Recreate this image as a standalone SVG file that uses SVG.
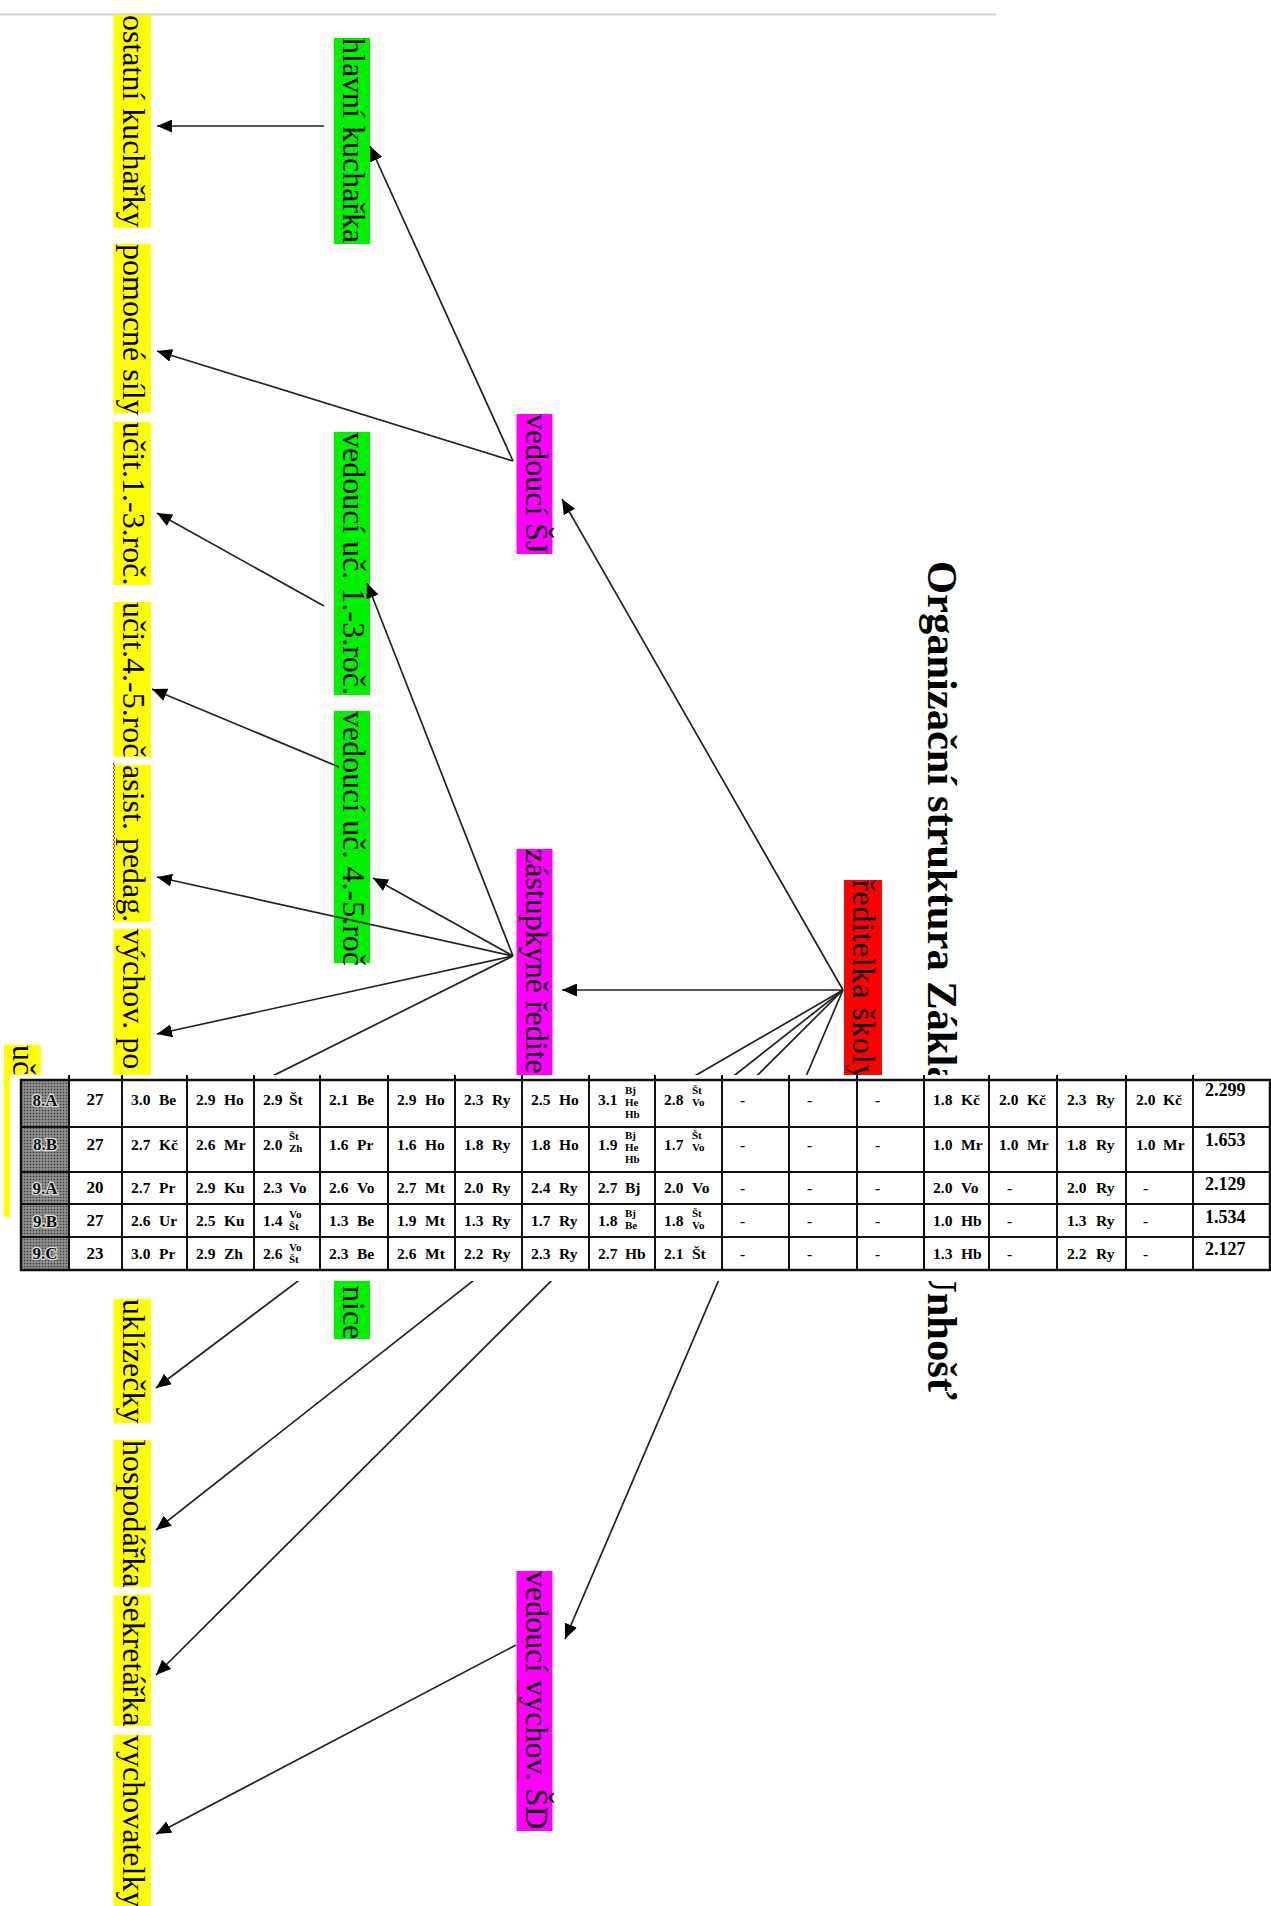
<svg xmlns="http://www.w3.org/2000/svg" width="1271" height="1906" viewBox="0 0 1271 1906">
<style>
.lbl{font-family:"Liberation Serif","Times New Roman",serif;font-size:32px;fill:#000}
.ttl{font-family:"Liberation Serif","Times New Roman",serif;font-size:42.5px;font-weight:bold;fill:#000}
.y{fill:#ffff00}.g{fill:#00f000}.m{fill:#ff00ff}.r{fill:#ff0000}
.cn{stroke:#222;stroke-width:1.7;fill:none}
.tl{stroke:#111;stroke-width:2;fill:none}
.t{font-family:"Liberation Serif","Times New Roman",serif;font-weight:bold;font-size:15.5px;fill:#000}
.s{font-size:11px}
.c{font-size:17px;text-anchor:middle}
.big{font-size:18px}
.hl{font-family:"Liberation Serif","Times New Roman",serif;font-weight:bold;font-size:17px;text-anchor:middle;fill:#111;stroke:#ddd;stroke-width:2.5;paint-order:stroke}
</style>
<defs>
<marker id="ah" viewBox="0 0 15 13" refX="15" refY="6.5" markerWidth="15" markerHeight="13" markerUnits="userSpaceOnUse" orient="auto"><path d="M0,0 L15,6.5 L0,13 z" fill="#000"/></marker>
<pattern id="sq" width="4" height="4" patternUnits="userSpaceOnUse"><path d="M1,0 L3,2 L1,4" fill="none" stroke="#e00000" stroke-width="0.9"/></pattern>
<pattern id="ht" width="3" height="3" patternUnits="userSpaceOnUse"><rect width="3" height="3" fill="#7c7c7c"/><rect x="0" y="0" width="1" height="1" fill="#3a3a3a"/><rect x="1.5" y="1.5" width="1" height="1" fill="#c8c8c8"/></pattern>
</defs>
<rect width="1271" height="1906" fill="#fff"/>
<line x1="0" y1="14.6" x2="996" y2="14.6" stroke="#cfcfcf" stroke-width="2"/>

<g id="nodes">
<g id="n-ostatni"><rect class="y" x="113.5" y="15" width="37.5" height="213"/><text class="lbl" transform="translate(122.5,15) rotate(90)">ostatní kuchařky</text></g>
<g id="n-pomocne"><rect class="y" x="113.5" y="244" width="37.5" height="169"/><text class="lbl" transform="translate(122.5,244) rotate(90)">pomocné síly</text></g>
<g id="n-ucit13"><rect class="y" x="113.5" y="422" width="37.5" height="163"/><text class="lbl" transform="translate(122.5,422) rotate(90)">učit.1.-3.roč.</text></g>
<g id="n-ucit45"><rect class="y" x="113.5" y="602" width="37.5" height="155"/><text class="lbl" transform="translate(122.5,602) rotate(90)">učit.4.-5.roč</text></g>
<g id="n-asist"><rect class="y" x="113.5" y="765" width="37.5" height="157"/><text class="lbl" transform="translate(122.5,765) rotate(90)">asist. pedag.</text><rect x="113" y="763" width="4" height="157" fill="url(#sq)"/></g>
<g id="n-vychpor"><rect class="y" x="113.5" y="929" width="37.5" height="171"/><text class="lbl" transform="translate(122.5,929) rotate(90)">výchov. po</text></g>
<g id="n-uc"><rect class="y" x="4" y="1045" width="37" height="172"/><text class="lbl" transform="translate(13,1045) rotate(90)">uč</text></g>
<g id="n-uklizecky"><rect class="y" x="113.5" y="1299" width="37.5" height="124"/><text class="lbl" transform="translate(122.5,1299) rotate(90)">uklízečky</text></g>
<g id="n-hospodarka"><rect class="y" x="113.5" y="1440" width="37.5" height="147"/><text class="lbl" transform="translate(122.5,1440) rotate(90)">hospodářka</text></g>
<g id="n-sekretarka"><rect class="y" x="113.5" y="1595" width="37.5" height="131"/><text class="lbl" transform="translate(122.5,1595) rotate(90)">sekretářka</text></g>
<g id="n-vychovatelky"><rect class="y" x="113.5" y="1735" width="37.5" height="171"/><text class="lbl" transform="translate(122.5,1735) rotate(90)">vychovatelky</text></g>

<g id="n-hlavni"><rect class="g" x="334" y="38" width="36" height="206"/><text class="lbl" transform="translate(343,38) rotate(90)">hlavní kuchařka</text></g>
<g id="n-ved13"><rect class="g" x="334" y="432" width="36" height="263"/><text class="lbl" transform="translate(343,432) rotate(90)">vedoucí uč. 1.-3.roč.</text></g>
<g id="n-ved45"><rect class="g" x="334" y="711" width="36" height="252"/><text class="lbl" transform="translate(343,711) rotate(90)">vedoucí uč. 4.-5.roč</text></g>
<g id="n-nice"><rect class="g" x="334" y="1100" width="36" height="239"/><text class="lbl" transform="translate(343,1286) rotate(90)">nice</text></g>

<g id="n-vedSJ"><rect class="m" x="516.5" y="414" width="36" height="140"/><text class="lbl" transform="translate(525.5,414) rotate(90)">vedoucí ŠJ</text></g>
<g id="n-zast"><rect class="m" x="516.5" y="849" width="36" height="250"/><text class="lbl" transform="translate(525.5,849) rotate(90)">zástupkyně ředite</text></g>
<g id="n-vedSD"><rect class="m" x="516.5" y="1571" width="36" height="260"/><text class="lbl" transform="translate(525.5,1571) rotate(90)">vedoucí vychov. ŠD</text><rect x="516" y="1680" width="4" height="100" fill="url(#sq)"/></g>

<g id="n-reditelka"><rect class="r" x="844" y="880" width="38" height="200"/><text class="lbl" letter-spacing="0.8" transform="translate(853,880) rotate(90)">ředitelka školy</text></g>
</g>

<g id="connectors">
<path class="cn" d="M324,126 L157,126" marker-end="url(#ah)"/>
<path class="cn" d="M513,461 L370,146" marker-end="url(#ah)"/>
<path class="cn" d="M513,461 L157,351" marker-end="url(#ah)"/>
<path class="cn" d="M324,606 L157,513" marker-end="url(#ah)"/>
<path class="cn" d="M339,767 L152,689" marker-end="url(#ah)"/>
<path class="cn" d="M513,956 L367,583" marker-end="url(#ah)"/>
<path class="cn" d="M513,956 L373,878" marker-end="url(#ah)"/>
<path class="cn" d="M513,956 L157,877" marker-end="url(#ah)"/>
<path class="cn" d="M513,956 L157,1034" marker-end="url(#ah)"/>
<path class="cn" d="M513,956 L48,1188"/>
<path class="cn" d="M843,990 L562,499" marker-end="url(#ah)"/>
<path class="cn" d="M843,990 L562,990" marker-end="url(#ah)"/>
<path class="cn" d="M843,990 L562,1153"/>
<path class="cn" d="M513,1119 L156,1388" marker-end="url(#ah)"/>
<path class="cn" d="M843,990 L156,1530" marker-end="url(#ah)"/>
<path class="cn" d="M843,990 L156,1675" marker-end="url(#ah)"/>
<path class="cn" d="M843,990 L565,1639" marker-end="url(#ah)"/>
<path class="cn" d="M516,1645 L156,1834" marker-end="url(#ah)"/>
</g>

<g id="title">
<text class="ttl" transform="translate(928,561) rotate(90)">Organizační struktura Zákla</text>
<text class="ttl" transform="translate(928,1262) rotate(90)">Unhošť</text>
</g>

<g id="table">
<rect x="10" y="1075" width="1261" height="206" fill="#fff"/>
<rect x="22" y="1081" width="47" height="189" fill="url(#ht)"/>
<g class="tl">
<rect x="21" y="1080" width="1249" height="190" stroke-width="2.5"/>
<path d="M21,1127H1270M21,1172H1270M21,1204H1270M21,1237H1270"/>
<path d="M69,1075V1270M122,1075V1270M187,1075V1270M254,1075V1270M320,1075V1270M388,1075V1270M455,1075V1270M522,1075V1270M589,1075V1270M655,1075V1270M722,1075V1270M789,1075V1270M857,1075V1270M924,1075V1270M989,1075V1270M1057,1075V1270M1126,1075V1270M1193,1075V1270"/>
</g>
<g>
<text class="hl" x="45" y="1106">8.A</text>
<text class="hl" x="45" y="1150">8.B</text>
<text class="hl" x="45" y="1194">9.A</text>
<text class="hl" x="45" y="1227">9.B</text>
<text class="hl" x="45" y="1259">9.C</text>
</g>
<g class="t">
<text class="c" x="95" y="1105">27</text>
<text class="c" x="95" y="1150">27</text>
<text class="c" x="95" y="1193">20</text>
<text class="c" x="95" y="1226">27</text>
<text class="c" x="95" y="1259">23</text>

<text x="131" y="1105">3.0</text><text x="159" y="1105">Be</text>
<text x="196" y="1105">2.9</text><text x="224" y="1105">Ho</text>
<text x="263" y="1105">2.9</text><text x="289" y="1105">Št</text>
<text x="329" y="1105">2.1</text><text x="357" y="1105">Be</text>
<text x="397" y="1105">2.9</text><text x="425" y="1105">Ho</text>
<text x="464" y="1105">2.3</text><text x="492" y="1105">Ry</text>
<text x="531" y="1105">2.5</text><text x="559" y="1105">Ho</text>
<text x="598" y="1105">3.1</text><text class="s" x="625" y="1094">Bj</text><text class="s" x="625" y="1106">He</text><text class="s" x="625" y="1118">Hb</text>
<text x="664" y="1105">2.8</text><text class="s" x="692" y="1094">Št</text><text class="s" x="692" y="1106">Vo</text>
<text x="740" y="1105">-</text><text x="807" y="1105">-</text><text x="875" y="1105">-</text>
<text x="933" y="1105">1.8</text><text x="961" y="1105">Kč</text>
<text x="999" y="1105">2.0</text><text x="1027" y="1105">Kč</text>
<text x="1067" y="1105">2.3</text><text x="1096" y="1105">Ry</text>
<text x="1136" y="1105">2.0</text><text x="1163" y="1105">Kč</text>
<text class="big" x="1205" y="1096">2.299</text>

<text x="131" y="1150">2.7</text><text x="159" y="1150">Kč</text>
<text x="196" y="1150">2.6</text><text x="224" y="1150">Mr</text>
<text x="263" y="1150">2.0</text><text class="s" x="289" y="1140">Št</text><text class="s" x="289" y="1152">Zh</text>
<text x="329" y="1150">1.6</text><text x="357" y="1150">Pr</text>
<text x="397" y="1150">1.6</text><text x="425" y="1150">Ho</text>
<text x="464" y="1150">1.8</text><text x="492" y="1150">Ry</text>
<text x="531" y="1150">1.8</text><text x="559" y="1150">Ho</text>
<text x="598" y="1150">1.9</text><text class="s" x="625" y="1139">Bj</text><text class="s" x="625" y="1151">He</text><text class="s" x="625" y="1163">Hb</text>
<text x="664" y="1150">1.7</text><text class="s" x="692" y="1139">Št</text><text class="s" x="692" y="1151">Vo</text>
<text x="740" y="1150">-</text><text x="807" y="1150">-</text><text x="875" y="1150">-</text>
<text x="933" y="1150">1.0</text><text x="961" y="1150">Mr</text>
<text x="999" y="1150">1.0</text><text x="1027" y="1150">Mr</text>
<text x="1067" y="1150">1.8</text><text x="1096" y="1150">Ry</text>
<text x="1136" y="1150">1.0</text><text x="1163" y="1150">Mr</text>
<text class="big" x="1205" y="1146">1.653</text>

<text x="131" y="1193">2.7</text><text x="159" y="1193">Pr</text>
<text x="196" y="1193">2.9</text><text x="224" y="1193">Ku</text>
<text x="263" y="1193">2.3</text><text x="289" y="1193">Vo</text>
<text x="329" y="1193">2.6</text><text x="357" y="1193">Vo</text>
<text x="397" y="1193">2.7</text><text x="425" y="1193">Mt</text>
<text x="464" y="1193">2.0</text><text x="492" y="1193">Ry</text>
<text x="531" y="1193">2.4</text><text x="559" y="1193">Ry</text>
<text x="598" y="1193">2.7</text><text x="625" y="1193">Bj</text>
<text x="664" y="1193">2.0</text><text x="692" y="1193">Vo</text>
<text x="740" y="1193">-</text><text x="807" y="1193">-</text><text x="875" y="1193">-</text>
<text x="933" y="1193">2.0</text><text x="961" y="1193">Vo</text>
<text x="1007" y="1193">-</text>
<text x="1067" y="1193">2.0</text><text x="1096" y="1193">Ry</text>
<text x="1143" y="1193">-</text>
<text class="big" x="1205" y="1190">2.129</text>

<text x="131" y="1226">2.6</text><text x="159" y="1226">Ur</text>
<text x="196" y="1226">2.5</text><text x="224" y="1226">Ku</text>
<text x="263" y="1226">1.4</text><text class="s" x="289" y="1218">Vo</text><text class="s" x="289" y="1230">Št</text>
<text x="329" y="1226">1.3</text><text x="357" y="1226">Be</text>
<text x="397" y="1226">1.9</text><text x="425" y="1226">Mt</text>
<text x="464" y="1226">1.3</text><text x="492" y="1226">Ry</text>
<text x="531" y="1226">1.7</text><text x="559" y="1226">Ry</text>
<text x="598" y="1226">1.8</text><text class="s" x="625" y="1217">Bj</text><text class="s" x="625" y="1229">Be</text>
<text x="664" y="1226">1.8</text><text class="s" x="692" y="1217">Št</text><text class="s" x="692" y="1229">Vo</text>
<text x="740" y="1226">-</text><text x="807" y="1226">-</text><text x="875" y="1226">-</text>
<text x="933" y="1226">1.0</text><text x="961" y="1226">Hb</text>
<text x="1007" y="1226">-</text>
<text x="1067" y="1226">1.3</text><text x="1096" y="1226">Ry</text>
<text x="1143" y="1226">-</text>
<text class="big" x="1205" y="1223">1.534</text>

<text x="131" y="1259">3.0</text><text x="159" y="1259">Pr</text>
<text x="196" y="1259">2.9</text><text x="224" y="1259">Zh</text>
<text x="263" y="1259">2.6</text><text class="s" x="289" y="1251">Vo</text><text class="s" x="289" y="1263">Št</text>
<text x="329" y="1259">2.3</text><text x="357" y="1259">Be</text>
<text x="397" y="1259">2.6</text><text x="425" y="1259">Mt</text>
<text x="464" y="1259">2.2</text><text x="492" y="1259">Ry</text>
<text x="531" y="1259">2.3</text><text x="559" y="1259">Ry</text>
<text x="598" y="1259">2.7</text><text x="625" y="1259">Hb</text>
<text x="664" y="1259">2.1</text><text x="692" y="1259">Št</text>
<text x="740" y="1259">-</text><text x="807" y="1259">-</text><text x="875" y="1259">-</text>
<text x="933" y="1259">1.3</text><text x="961" y="1259">Hb</text>
<text x="1007" y="1259">-</text>
<text x="1067" y="1259">2.2</text><text x="1096" y="1259">Ry</text>
<text x="1143" y="1259">-</text>
<text class="big" x="1205" y="1255">2.127</text>
</g>
</g>
</svg>
